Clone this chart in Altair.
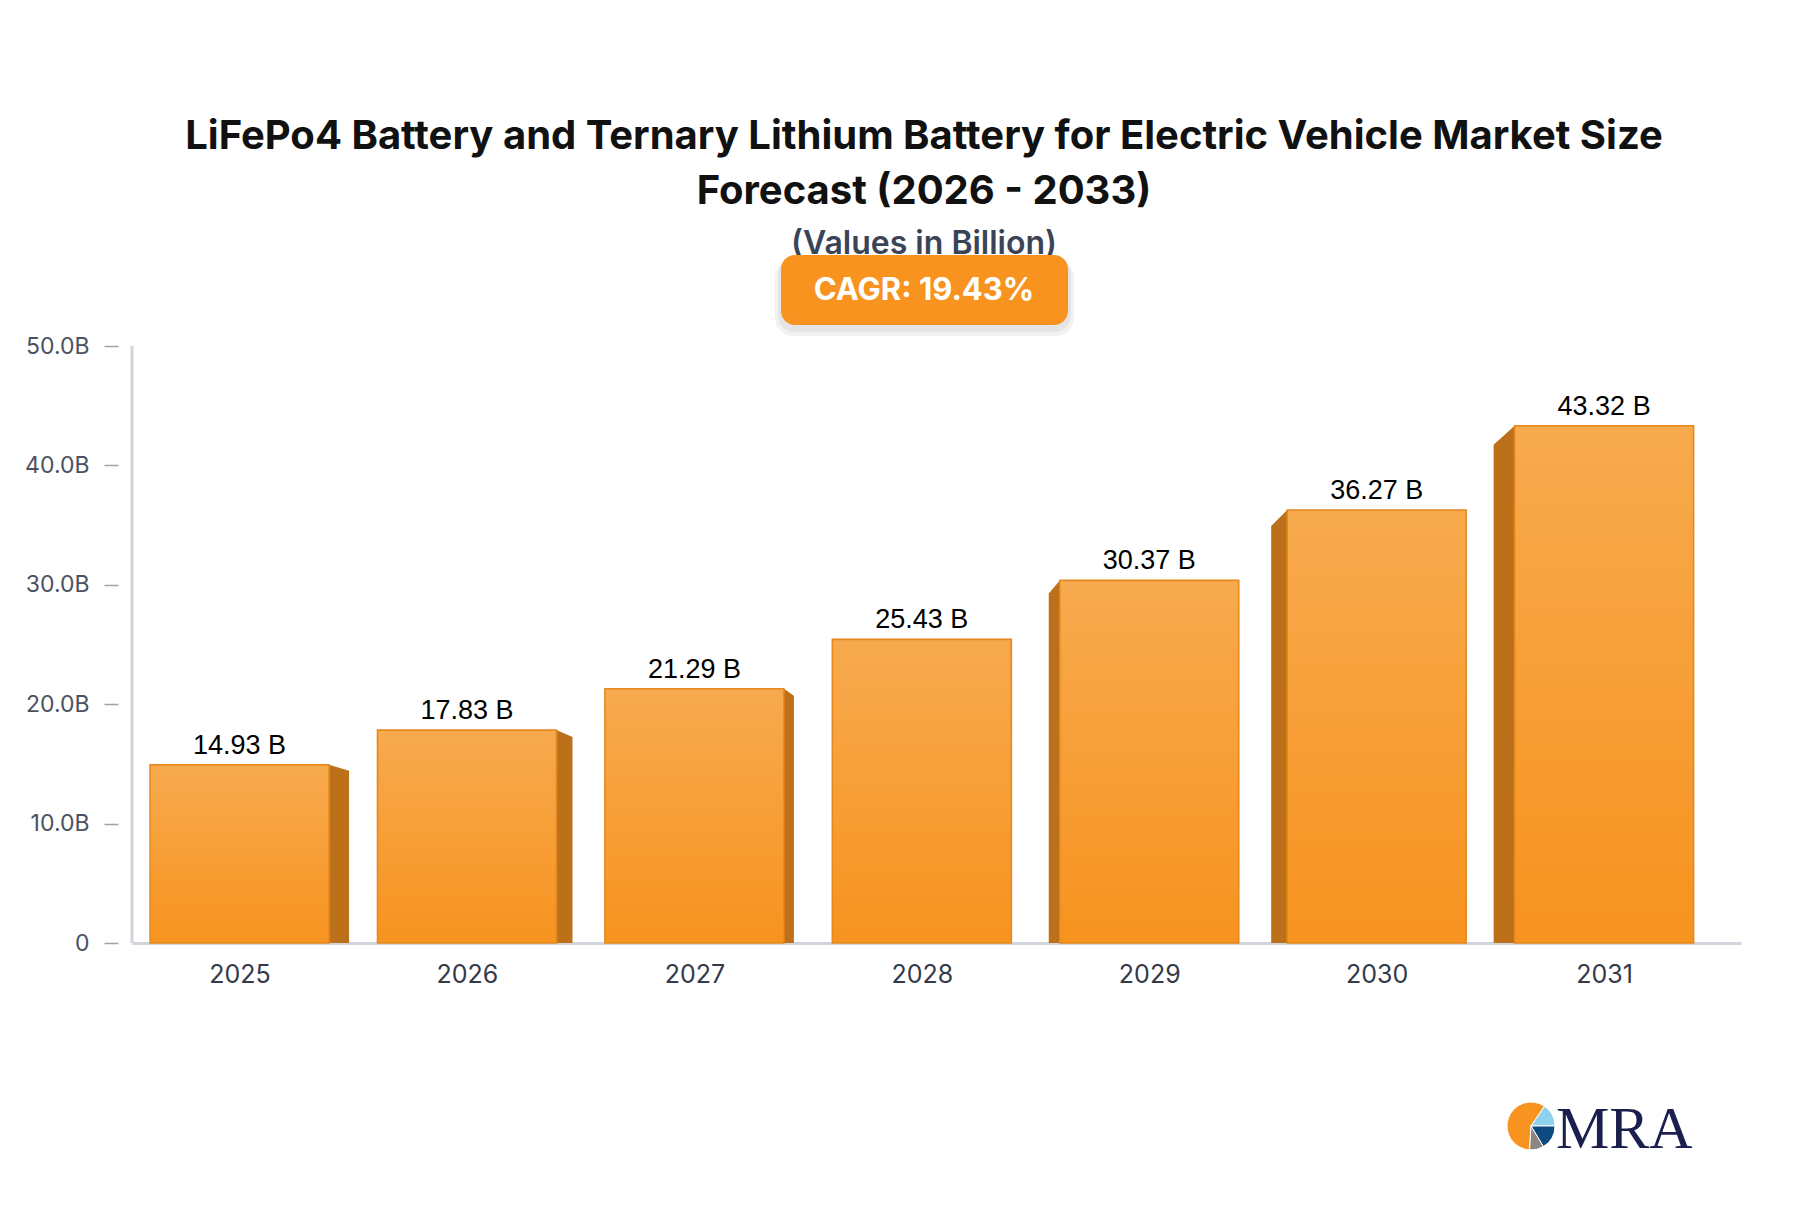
import altair as alt
import pandas as pd

# ---- data ----
years = [2025, 2026, 2027, 2028, 2029, 2030, 2031]
values = [14.93, 17.83, 21.29, 25.43, 30.37, 36.27, 43.32]
y_ticks = [0, 10, 20, 30, 40, 50]
title_lines = [
    "LiFePo4 Battery and Ternary Lithium Battery for Electric Vehicle Market Size",
    "Forecast (2026 - 2033)",
]
subtitle = "(Values in Billion)"
cagr_text = "CAGR: 19.43%"

# ---- layout / style constants ----
W, H = 1609, 597
X_DOMAIN = [2024.527, 2031.602]
Y_DOMAIN = [0, 50]
PX_PER_YEAR = W / (X_DOMAIN[1] - X_DOMAIN[0])
PX_PER_UNIT = H / (Y_DOMAIN[1] - Y_DOMAIN[0])
HALF_BAR = 0.3935                       # half width of the front face, in years
SIDE_PX = [20, 16, 10, 0, 11, 16, 21]   # 3D side depth per bar (px)
SIDE_DROP = [6, 7, 7, 0, 13, 16, 19]    # slant of the side's top edge (px)
CENTER_YEAR = 2028

bars = pd.DataFrame({
    "year": years,
    "value": values,
    "x0": [y - HALF_BAR for y in years],
    "x1": [y + HALF_BAR for y in years],
    "label": [f"{v:.2f} B" for v in values],
})

side_rows = []
for y, v, sp, dp in zip(years, values, SIDE_PX, SIDE_DROP):
    if sp == 0:
        continue
    d = 1 if y < CENTER_YEAR else -1
    front = y + d * HALF_BAR
    outer = front + d * sp / PX_PER_YEAR
    side_rows.append({"year": y, "sx": front, "sy": v, "base": 0})
    side_rows.append({"year": y, "sx": outer, "sy": v - dp / PX_PER_UNIT, "base": 0})
sides = pd.DataFrame(side_rows)

one = pd.DataFrame({"k": [0]})

xscale = alt.Scale(domain=X_DOMAIN, nice=False, zero=False)
yscale = alt.Scale(domain=Y_DOMAIN, nice=False)

side_layer = alt.Chart(sides).mark_area(orient="vertical", color="#BB7019").encode(
    x=alt.X("sx:Q", scale=xscale, axis=None),
    y=alt.Y("sy:Q", scale=yscale, axis=None),
    y2="base:Q",
    detail="year:N",
)

front_layer = alt.Chart(bars).mark_bar(
    color=alt.Gradient(
        gradient="linear", x1=0, y1=0, x2=0, y2=1,
        stops=[alt.GradientStop(color="#F7AA4E", offset=0),
               alt.GradientStop(color="#F7931F", offset=1)],
    ),
    stroke="#E6881E",
    strokeWidth=1.6,
).encode(
    x=alt.X("x0:Q", scale=xscale, title=None,
            axis=alt.Axis(values=years, format="d", grid=False, ticks=False,
                          domainColor="#D1D4DB", domainWidth=3,
                          labelFont="Inter", labelFontSize=25, labelColor="#343A4A",
                          labelPadding=19)),
    x2="x1:Q",
    y=alt.Y("value:Q", scale=yscale, title=None,
            axis=alt.Axis(values=y_ticks, grid=False, domain=False, offset=14,
                          tickSize=14, tickColor="#9CA3AF", tickWidth=1.5,
                          labelFont="Inter", labelFontSize=23, labelColor="#4B5161",
                          labelPadding=15,
                          labelExpr="datum.value == 0 ? '0' : format(datum.value, '.1f') + 'B'")),
    y2=alt.datum(0),
)

yline = alt.Chart(one).mark_rule(color="#D1D4DB", strokeWidth=3).encode(
    x=alt.XDatum(X_DOMAIN[0], scale=xscale, axis=None),
    y=alt.YDatum(Y_DOMAIN[0], scale=yscale, axis=None),
    y2=alt.Y2Datum(Y_DOMAIN[1]),
)

value_labels = alt.Chart(bars).mark_text(
    baseline="alphabetic", dy=-11, fontSize=27, font="Liberation Sans", color="#000000"
).encode(
    x=alt.X("year:Q", scale=xscale, axis=None),
    y=alt.Y("value:Q", scale=yscale, axis=None),
    text="label:N",
)

CX = 792
title1 = alt.Chart(one).mark_text(
    text=title_lines[0], font="Inter", fontWeight="bold", fontSize=40,
    color="#111111", baseline="middle", align="center"
).encode(x=alt.value(CX), y=alt.value(-209))
title2 = alt.Chart(one).mark_text(
    text=title_lines[1], font="Inter", fontWeight="bold", fontSize=40,
    color="#111111", baseline="middle", align="center"
).encode(x=alt.value(CX), y=alt.value(-154))
sub = alt.Chart(one).mark_text(
    text=subtitle, font="Inter", fontWeight=600, fontSize=32,
    color="#3B4456", baseline="middle", align="center"
).encode(x=alt.value(CX), y=alt.value(-102))

shadow1 = alt.Chart(one).mark_rect(color="#000000", opacity=0.05, cornerRadius=18).encode(
    x=alt.value(643), x2=alt.value(942), y=alt.value(-86), y2=alt.value(-10))
shadow2 = alt.Chart(one).mark_rect(color="#000000", opacity=0.05, cornerRadius=16).encode(
    x=alt.value(646), x2=alt.value(939), y=alt.value(-88), y2=alt.value(-14))
box = alt.Chart(one).mark_rect(color="#F7931E", cornerRadius=14).encode(
    x=alt.value(649), x2=alt.value(936), y=alt.value(-91), y2=alt.value(-21))
box_text = alt.Chart(one).mark_text(
    text=cagr_text, font="Inter", fontWeight="bold", fontSize=31,
    color="#FFFFFF", baseline="middle", align="center"
).encode(x=alt.value(CX), y=alt.value(-55))

# logo
LX, LY, LR = 1399, 780, 24
def wedge(t0, t1, col):
    return alt.Chart(one).mark_arc(radius=LR, theta=t0, theta2=t1, color=col,
                                   stroke="#FFFFFF", strokeWidth=1).encode(
        x=alt.value(LX), y=alt.value(LY))
logo = [
    wedge(3.2, 6.88, "#F7931E"),
    wedge(0.6, 1.57, "#8ED1EE"),
    wedge(1.57, 2.6, "#0D4A80"),
    wedge(2.6, 3.2, "#8B8583"),
]
mra = alt.Chart(one).mark_text(
    text="MRA", font="Liberation Serif", fontSize=60, color="#1B1F4D",
    baseline="alphabetic", align="left"
).encode(x=alt.value(1424), y=alt.value(802))

chart = alt.layer(
    side_layer, front_layer, yline, value_labels,
    title1, title2, sub, shadow1, shadow2, box, box_text, *logo, mra
).resolve_axis(
    x="independent", y="independent"
).properties(
    width=W, height=H,
    padding={"left": 124, "top": 338, "right": 51, "bottom": 250},
    autosize=alt.AutoSizeParams(type="none"),
    background="#FFFFFF",
).configure_view(stroke=None)

chart.save("out.html", embed_options={"renderer": "svg", "actions": False})
